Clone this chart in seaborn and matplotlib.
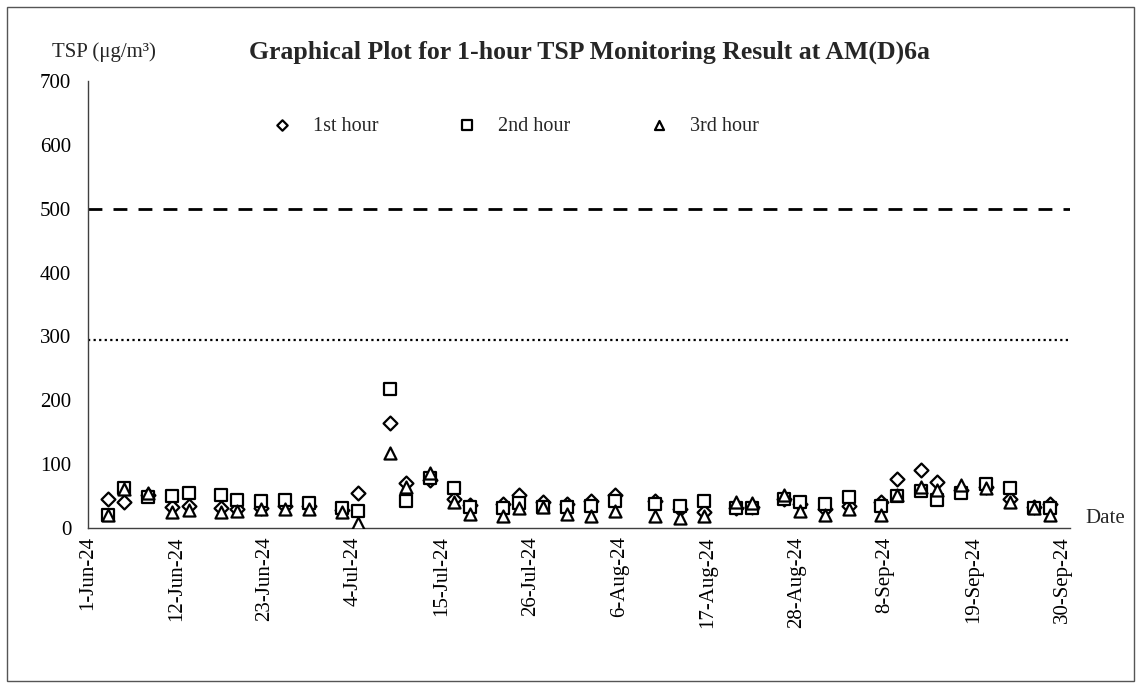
import matplotlib
matplotlib.use("Agg")
import matplotlib.pyplot as plt
import pandas as pd
import seaborn as sns
from matplotlib.patches import Rectangle

# sampling dates and 1-hour TSP readings (ug/m3)
DATES = [
    "2024-06-03", "2024-06-05", "2024-06-08", "2024-06-11", "2024-06-13",
    "2024-06-17", "2024-06-19", "2024-06-22", "2024-06-25", "2024-06-28",
    "2024-07-02", "2024-07-04", "2024-07-08", "2024-07-10", "2024-07-13",
    "2024-07-16", "2024-07-18", "2024-07-22", "2024-07-24", "2024-07-27",
    "2024-07-30", "2024-08-02", "2024-08-05", "2024-08-10", "2024-08-13",
    "2024-08-16", "2024-08-20", "2024-08-22", "2024-08-26", "2024-08-28",
    "2024-08-31", "2024-09-03", "2024-09-07", "2024-09-09", "2024-09-12",
    "2024-09-14", "2024-09-17", "2024-09-20", "2024-09-23", "2024-09-26",
    "2024-09-28",
]
HOUR_1 = [45, 41, 52, 33, 34, 32, 30, 32, 34, 35,
          28, 55, 165, 71, 75, 45, 36, 38, 51, 41,
          38, 42, 52, 43, 30, 25, 32, 33, 46, 38,
          30, 35, 40, 76, 91, 72, 60, 64, 45, 33,
          38]
HOUR_2 = [21, 62, 49, 50, 55, 52, 44, 42, 44, 39,
          32, 27, 218, 42, 79, 62, 33, 31, 39, 33,
          33, 34, 42, 37, 34, 42, 32, 31, 46, 41,
          37, 49, 34, 50, 58, 44, 55, 69, 62, 31,
          31]
HOUR_3 = [20, 61, 55, 25, 28, 25, 27, 29, 29, 29,
          25, 8, 118, 64, 86, 40, 22, 19, 31, 33,
          22, 19, 26, 19, 15, 19, 40, 39, 52, 27,
          20, 30, 20, 52, 64, 59, 67, 62, 41, 31,
          20]

SERIES = {"1st hour": HOUR_1, "2nd hour": HOUR_2, "3rd hour": HOUR_3}
MARKERS = {"1st hour": "D", "2nd hour": "s", "3rd hour": "^"}
SIZES = {"1st hour": 50, "2nd hour": 75, "3rd hour": 75}

LIMIT_LEVEL = 500     # dashed line
ACTION_LEVEL = 294    # dotted line

TICK_START = "2024-06-01"
TICK_STEP_DAYS = 11
X_END = "2024-10-01"

sns.set_style("white")
plt.rcParams["font.family"] = ["Liberation Serif", "DejaVu Serif"]

rows = []
for name, vals in SERIES.items():
    for d, v in zip(DATES, vals):
        # Excel date axis puts each point in the middle of its day
        rows.append({"date": pd.Timestamp(d) + pd.Timedelta(hours=12), "tsp": v, "hour": name})
df = pd.DataFrame(rows)

fig = plt.figure(figsize=(11.41, 6.88), dpi=100)
fig.patch.set_facecolor("white")
fig.patches.append(Rectangle((0.006, 0.01), 0.988, 0.98, transform=fig.transFigure,
                             fill=False, edgecolor="#555555", linewidth=1.0))

ax = fig.add_axes([0.0771, 0.2326, 0.8607, 0.6497])

for name in SERIES:
    sub = df[df["hour"] == name]
    sns.scatterplot(data=sub, x="date", y="tsp", marker=MARKERS[name], s=SIZES[name],
                    color="white", edgecolor="black", linewidth=1.6, ax=ax,
                    label=name, zorder=3)

ax.axhline(LIMIT_LEVEL, color="black", linestyle=(0, (5, 4)), linewidth=2.0, zorder=2)
ax.axhline(ACTION_LEVEL, color="black", linestyle=(0, (1, 1.5)), linewidth=1.6, zorder=2)

ax.set_xlim(pd.Timestamp(TICK_START), pd.Timestamp(X_END))
ax.set_ylim(0, 700)
ax.set_yticks(range(0, 701, 100))
ticks = pd.date_range(TICK_START, X_END, freq=f"{TICK_STEP_DAYS}D")
ax.set_xticks(ticks)
ax.set_xticklabels([f"{t.day}-{t.strftime('%b-%y')}" for t in ticks], rotation=90)

ax.set_xlabel("")
ax.set_ylabel("")
for side in ("top", "right"):
    ax.spines[side].set_visible(False)
for side in ("left", "bottom"):
    ax.spines[side].set_color("#404040")
    ax.spines[side].set_linewidth(1.0)
ax.tick_params(axis="both", direction="in", length=6, width=1, color="#404040",
               labelsize=15, labelcolor="black")
ax.tick_params(axis="y", pad=12)
ax.tick_params(axis="x", pad=6)

ax.legend(loc="center left", bbox_to_anchor=(0.187, 0.899), ncol=3, frameon=False,
          fontsize=14.5, handlelength=1.0, handletextpad=1.05, columnspacing=3.9,
          markerscale=0.75, borderaxespad=0, borderpad=0)

fig.text(0.046, 0.924, "TSP (μg/m³)", fontsize=15, ha="left", va="center")
fig.text(0.517, 0.924, "Graphical Plot for 1-hour TSP Monitoring Result at AM(D)6a",
         fontsize=18.5, fontweight="bold", ha="center", va="center")
fig.text(0.951, 0.247, "Date", fontsize=15, ha="left", va="center")

fig.savefig("out.png", dpi=100, facecolor="white")
